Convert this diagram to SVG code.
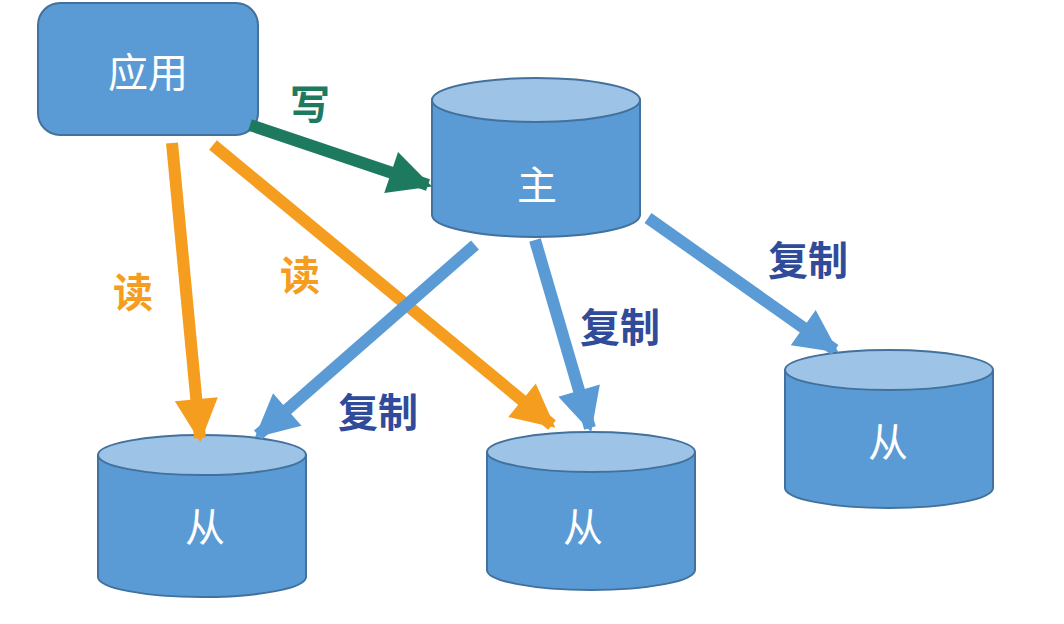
<svg xmlns="http://www.w3.org/2000/svg" width="1064" height="624" viewBox="0 0 1064 624">
<style>
.n{fill:#5b9bd5;stroke:#41719c;stroke-width:2}
.top{fill:#9dc3e6;stroke:#41719c;stroke-width:2}
.t{font-family:"Noto Sans CJK SC",sans-serif;fill:#fff;font-size:40px;text-anchor:middle;dominant-baseline:central}
.l{font-family:"Noto Sans CJK SC",sans-serif;font-size:40px;font-weight:bold;text-anchor:middle;dominant-baseline:central}
.c{fill:none;stroke-width:12}
</style>
<defs>
<marker id="ag" viewBox="0 0 10 10" refX="9" refY="5" markerWidth="4" markerHeight="3.6" orient="auto" markerUnits="strokeWidth"><path d="M0,0L10,5L0,10z" fill="#1e7a5f"/></marker>
<marker id="ao" viewBox="0 0 10 10" refX="9" refY="5" markerWidth="4" markerHeight="3.6" orient="auto" markerUnits="strokeWidth"><path d="M0,0L10,5L0,10z" fill="#f59d1e"/></marker>
<marker id="ab" viewBox="0 0 10 10" refX="9" refY="5" markerWidth="4" markerHeight="3.6" orient="auto" markerUnits="strokeWidth"><path d="M0,0L10,5L0,10z" fill="#5b9bd5"/></marker>
</defs>
<rect width="1064" height="624" fill="#fff"/>
<g id="app"><rect class="n" x="38" y="3" width="220" height="132" rx="22"/><text class="t" x="148" y="70">应用</text></g>
<g id="master"><path class="n" d="M432,100 V215 A104,22 0 0 0 640,215 V100"/><ellipse class="top" cx="536" cy="100" rx="104" ry="22"/><text class="t" x="537" y="183">主</text></g>
<g id="slave1"><path class="n" d="M98,455 V577 A104,20 0 0 0 306,577 V455"/><ellipse class="top" cx="202" cy="455" rx="104" ry="20"/><text class="t" x="205" y="525">从</text></g>
<g id="slave2"><path class="n" d="M487,452 V570 A104,20 0 0 0 695,570 V452"/><ellipse class="top" cx="591" cy="452" rx="104" ry="20"/><text class="t" x="583" y="525">从</text></g>
<g id="slave3"><path class="n" d="M785,370 V488 A104,20 0 0 0 993,488 V370"/><ellipse class="top" cx="889" cy="370" rx="104" ry="20"/><text class="t" x="888" y="440">从</text></g>
<g id="connectors">
<line class="c" stroke="#1e7a5f" x1="250" y1="125" x2="428" y2="185" marker-end="url(#ag)"/>
<line class="c" stroke="#f59d1e" x1="172" y1="143" x2="200" y2="438" marker-end="url(#ao)"/>
<line class="c" stroke="#f59d1e" x1="213" y1="145" x2="552" y2="425" marker-end="url(#ao)"/>
<line class="c" stroke="#5b9bd5" x1="475" y1="245" x2="258" y2="435" marker-end="url(#ab)"/>
<line class="c" stroke="#5b9bd5" x1="535" y1="240" x2="590" y2="428" marker-end="url(#ab)"/>
<line class="c" stroke="#5b9bd5" x1="648" y1="218" x2="835" y2="350" marker-end="url(#ab)"/>
<text class="l" fill="#1e7a5f" x="310" y="102">写</text>
<text class="l" fill="#f59d1e" x="133" y="290">读</text>
<text class="l" fill="#f59d1e" x="300" y="273">读</text>
<text class="l" fill="#2f4b9a" x="378" y="410">复制</text>
<text class="l" fill="#2f4b9a" x="620" y="325">复制</text>
<text class="l" fill="#2f4b9a" x="808" y="258">复制</text>
</g>
</svg>
